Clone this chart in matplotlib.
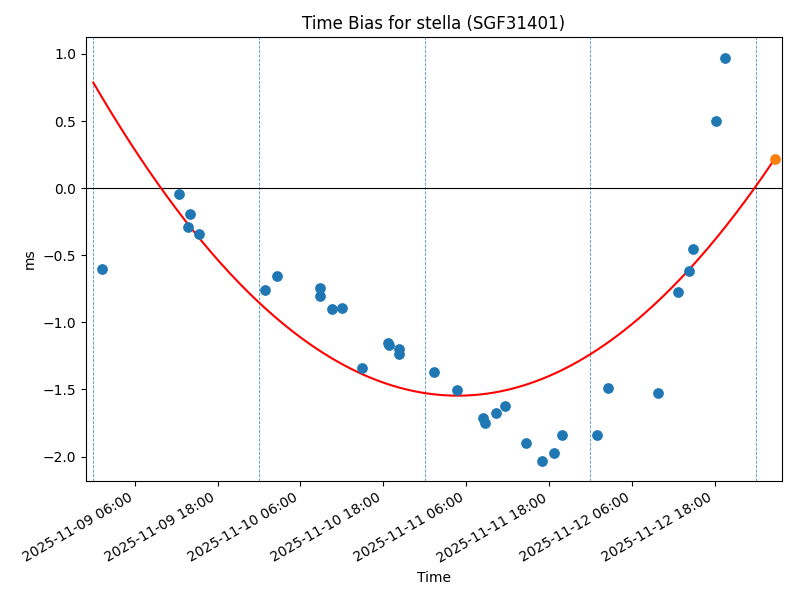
import numpy as np
import pandas as pd
import matplotlib
matplotlib.use("Agg")
import matplotlib.pyplot as plt
import matplotlib.dates as mdates

# measured time bias points (ms)
times = [
    "2025-11-09 01:16", "2025-11-09 12:22", "2025-11-09 14:03", "2025-11-09 13:40",
    "2025-11-09 15:21", "2025-11-10 00:54", "2025-11-10 02:38", "2025-11-10 08:50",
    "2025-11-10 08:50", "2025-11-10 10:37", "2025-11-10 11:58", "2025-11-10 14:57",
    "2025-11-10 18:38", "2025-11-10 18:46", "2025-11-10 20:19", "2025-11-10 20:19",
    "2025-11-11 01:23", "2025-11-11 04:43", "2025-11-11 08:28", "2025-11-11 08:41",
    "2025-11-11 10:16", "2025-11-11 11:34", "2025-11-11 14:42", "2025-11-11 17:04",
    "2025-11-11 18:45", "2025-11-11 19:55", "2025-11-12 00:59", "2025-11-12 02:34",
    "2025-11-12 09:49", "2025-11-12 12:43", "2025-11-12 14:18", "2025-11-12 14:53",
    "2025-11-12 18:13", "2025-11-12 19:31",
]
bias_ms = [
    -0.604, -0.045, -0.192, -0.291,
    -0.341, -0.761, -0.656, -0.746,
    -0.806, -0.902, -0.895, -1.342,
    -1.152, -1.166, -1.200, -1.238,
    -1.372, -1.506, -1.712, -1.752,
    -1.677, -1.625, -1.901, -2.035,
    -1.975, -1.841, -1.841, -1.491,
    -1.528, -0.776, -0.619, -0.453,
    0.501, 0.968,
]

# predicted point
pred_time = "2025-11-13 02:43"
pred_ms = 0.218

# quadratic fit, hours since fit_origin
fit_origin = "2025-11-09 00:00"
fit_coeffs = [0.0008368, -0.08835, 0.786]

day_lines = ["2025-11-09", "2025-11-10", "2025-11-11", "2025-11-12", "2025-11-13"]

t = pd.to_datetime(times)
t_pred = pd.to_datetime(pred_time)
t0 = pd.to_datetime(fit_origin)

fig, ax = plt.subplots(figsize=(8, 6), dpi=100)

for d in day_lines:
    ax.axvline(pd.to_datetime(d), color="tab:blue", linestyle="--", linewidth=0.6, alpha=0.8)
ax.axhline(0, color="black", linewidth=0.8)

hrs = np.linspace(0, (t_pred - t0).total_seconds() / 3600, 300)
fit_t = t0 + pd.to_timedelta(hrs, unit="h")
ax.plot(fit_t, np.polyval(fit_coeffs, hrs), color="red", linewidth=1.5)

ax.scatter(t, bias_ms, s=45, color="tab:blue", zorder=3)
ax.scatter([t_pred], [pred_ms], s=45, color="tab:orange", zorder=3)

ax.set_xlim(pd.to_datetime("2025-11-08 22:56"), pd.to_datetime("2025-11-13 03:46"))
ax.set_ylim(-2.182, 1.124)

ax.xaxis.set_major_locator(mdates.HourLocator(byhour=[6, 18]))
ax.xaxis.set_major_formatter(mdates.DateFormatter("%Y-%m-%d %H:%M"))

ax.set_title("Time Bias for stella (SGF31401)")
ax.set_xlabel("Time")
ax.set_ylabel("ms")

fig.autofmt_xdate()
fig.subplots_adjust(left=0.1075, right=0.9775, top=0.9378, bottom=0.1983)
plt.savefig("out.png")
